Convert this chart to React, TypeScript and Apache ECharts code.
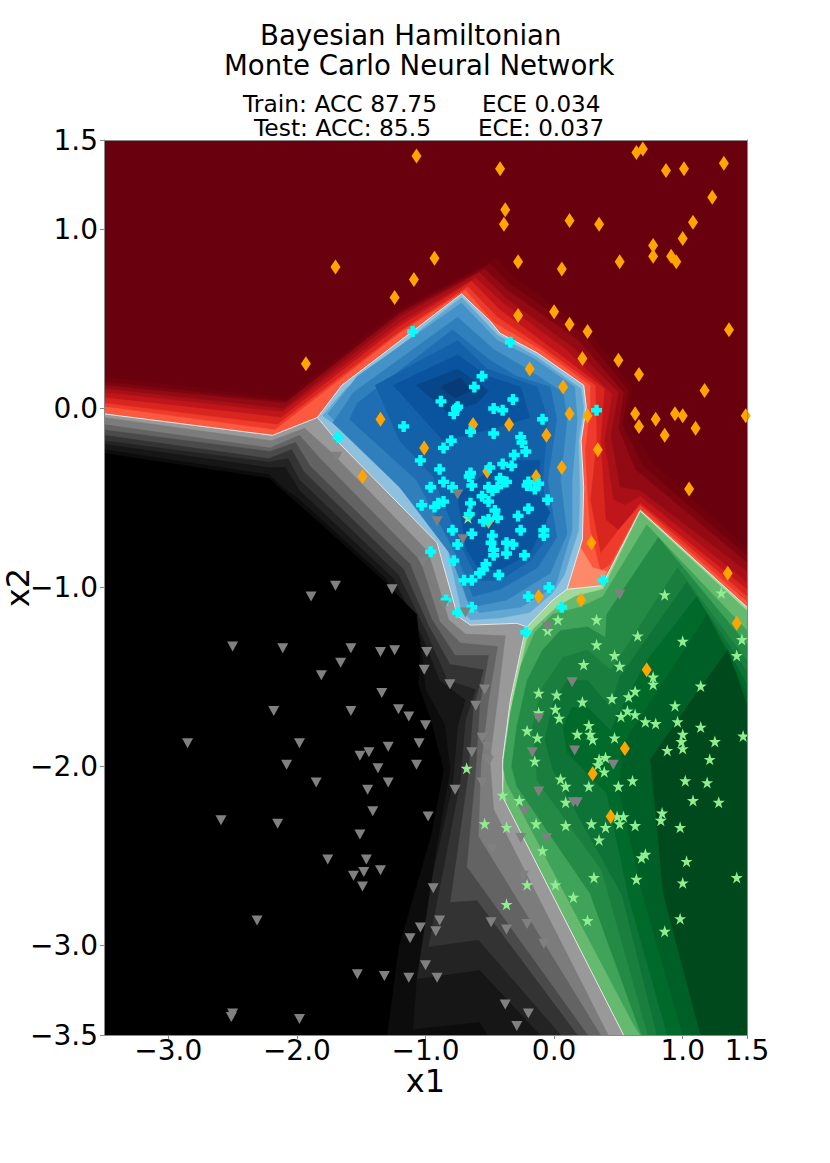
import React, { useEffect, useRef } from "react";
import * as echarts from "echarts";

type P = number[];

const xTicks = [-3, -2, -1, 0, 1, 1.5];
const yTicks = [-3.5, -3, -2, -1, 0, 1, 1.5];

const classOrange: P[] = [[-1.07,1.41],[-1.70,0.79],[-1.09,0.72],[-1.24,0.62],[-1.93,0.25],[-1.35,-0.06],[-1.01,-0.22],[-0.42,1.34],[-0.38,1.11],[-0.39,1.03],[-0.93,0.84],[-0.28,0.82],[0.06,0.78],[0.12,1.05],[0.35,1.03],[0.51,0.82],[0.64,1.43],[0.69,1.45],[0.87,1.33],[1.01,1.34],[1.32,1.37],[1.23,1.18],[1.08,1.04],[1.00,0.95],[0.77,0.91],[0.77,0.85],[0.91,0.85],[0.95,0.82],[-0.28,0.52],[0,0.54],[0.12,0.47],[0.26,0.43],[1.36,0.44],[0.22,0.28],[0.50,0.27],[0.66,0.19],[1.17,0.10],[-0.19,0.22],[0.07,0.12],[0.12,-0.03],[0.26,-0.04],[0.34,-0.23],[0.63,-0.03],[0.66,-0.10],[0.79,-0.06],[0.86,-0.15],[0.94,-0.03],[1.00,-0.04],[1.10,-0.11],[1.49,-0.04],[-0.35,-0.09],[-0.06,-0.15],[-0.63,-0.09],[-1.49,-0.38],[0.06,-0.33],[-0.52,-0.35],[-0.14,-0.38],[0.29,-0.75],[-0.12,-1.05],[0.21,-1.07],[-0.51,-0.63],[1.35,-0.92],[1.42,-1.20],[0.72,-1.46],[0.55,-1.90],[0.30,-2.04],[0.44,-2.28],[1.05,-0.45]];

const classCyan: P[] = [[-1.10,0.43],[-0.34,0.37],[-0.56,0.18],[-0.62,0.12],[-0.88,0.04],[-0.32,0.05],[-0.75,0.01],[-0.76,0],[-0.78,-0.03],[-0.47,0],[-0.40,-0.01],[0.33,-0.01],[-0.09,-0.06],[-1.17,-0.10],[-1.68,-0.16],[-0.65,-0.13],[-0.47,-0.14],[-0.26,-0.16],[-0.25,-0.19],[-0.80,-0.18],[-0.86,-0.22],[-0.22,-0.24],[-0.31,-0.26],[-1.04,-0.29],[-0.89,-0.34],[-0.50,-0.33],[-0.40,-0.31],[-0.33,-0.32],[-0.65,-0.36],[-0.66,-0.38],[-0.86,-0.41],[-0.96,-0.44],[-0.79,-0.44],[-0.64,-0.43],[-0.42,-0.39],[-0.40,-0.41],[-0.37,-0.41],[-0.44,-0.44],[-0.51,-0.44],[-0.48,-0.46],[-0.20,-0.41],[-0.21,-0.43],[-0.12,-0.42],[-0.15,-0.45],[-0.56,-0.49],[-0.51,-0.52],[-0.86,-0.52],[-0.90,-0.53],[-0.93,-0.55],[-1.03,-0.54],[-0.65,-0.53],[-0.05,-0.51],[-0.46,-0.57],[-0.20,-0.56],[-0.66,-0.59],[-0.44,-0.61],[-0.28,-0.60],[-0.51,-0.62],[-0.55,-0.63],[-0.79,-0.68],[-0.26,-0.68],[-0.08,-0.68],[-0.08,-0.71],[-0.64,-0.70],[-0.48,-0.71],[-0.37,-0.75],[-0.32,-0.76],[-0.75,-0.76],[-0.49,-0.75],[-0.47,-0.79],[-0.96,-0.80],[-0.37,-0.81],[-0.23,-0.82],[-0.47,-0.82],[-0.78,-0.85],[-0.53,-0.87],[-0.55,-0.90],[-0.58,-0.92],[-0.43,-0.93],[-0.64,-0.96],[-0.70,-0.96],[-0.04,-1.00],[0.38,-0.96],[-0.20,-1.05],[-0.84,-1.07],[0.06,-1.11],[-0.64,-1.11],[-0.75,-1.14],[-0.22,-1.25]];

const classGrey: P[] = [[-1.70,-0.99],[-1.89,-1.05],[-1.26,-1.01],[-2.50,-1.33],[-2.11,-1.34],[-1.58,-1.34],[-1.35,-1.36],[-1.24,-1.35],[-0.99,-1.36],[-1.66,-1.42],[-1.01,-1.46],[-1.81,-1.49],[-1.34,-1.59],[-2.18,-1.69],[-1.58,-1.69],[-1.21,-1.68],[-1.13,-1.72],[-1.00,-1.77],[-2.85,-1.87],[-1.98,-1.87],[-1.05,-1.87],[-1.29,-1.89],[-1.44,-1.92],[-1.51,-1.94],[-2.08,-1.99],[-1.07,-1.99],[-1.37,-2.01],[-1.29,-2.09],[-1.85,-2.09],[-1.45,-2.13],[-1.41,-2.25],[-0.98,-2.28],[-2.59,-2.30],[-2.15,-2.32],[-1.51,-2.38],[-1.76,-2.52],[-1.46,-2.52],[-1.35,-2.58],[-1.48,-2.59],[-1.56,-2.61],[-1.49,-2.67],[-2.31,-2.86],[-1.04,-2.90],[-1.12,-2.96],[-1.00,-3.11],[-1.53,-3.16],[-1.32,-3.17],[-1.13,-3.18],[-2.50,-3.38],[-2.51,-3.40],[-1.98,-3.41],[-0.77,-2.13],[-0.56,-2.09],[-0.12,-2.14],[0.15,-2.20],[0.18,-2.20],[-0.23,-2.25],[-0.26,-2.40],[-0.06,-2.40],[-0.48,-2.46],[-0.24,-2.61],[-0.94,-2.68],[-0.89,-2.86],[-0.49,-2.87],[-0.21,-2.88],[-0.37,-2.91],[-0.92,-2.92],[-0.08,-2.99],[-0.91,-3.18],[-0.38,-3.33],[-0.20,-3.38],[-0.29,-3.45],[0.46,-1.99],[-0.51,-1.97],[-0.91,-0.63],[-0.71,-0.73],[-1.02,-0.86],[-0.86,-1.10],[-0.69,-1.14],[-0.81,-1.54],[-0.54,-1.57],[-0.61,-1.66],[-0.56,-1.84],[-0.52,-1.89],[-0.64,-1.92],[-0.52,-1.96],[-0.17,-1.92],[-0.12,-1.73],[0.16,-1.91],[0.14,-1.53],[-0.05,-1.22],[0.51,-1.04],[-0.75,-0.48],[-1.69,-0.27]];

const classGreen: P[] = [[0.86,-1.04],[1.30,-1.03],[0.03,-1.18],[0.33,-1.18],[0.65,-1.27],[1.00,-1.30],[1.46,-1.29],[0.33,-1.32],[0.47,-1.38],[1.42,-1.38],[0.23,-1.43],[0.51,-1.44],[0.77,-1.50],[0.77,-1.54],[1.14,-1.55],[-0.12,-1.59],[0.02,-1.60],[0.22,-1.64],[0.45,-1.62],[0.63,-1.58],[0.58,-1.61],[0.94,-1.66],[0.01,-1.68],[-0.12,-1.70],[0.57,-1.69],[0.52,-1.72],[0.63,-1.71],[0.04,-1.73],[0.71,-1.75],[0.79,-1.76],[0.96,-1.75],[1.14,-1.78],[0.27,-1.77],[-0.21,-1.80],[0.18,-1.82],[0.28,-1.82],[0.30,-1.85],[0.47,-1.84],[-0.13,-1.84],[1.00,-1.82],[0.99,-1.86],[1.25,-1.86],[1.47,-1.83],[0.88,-1.91],[1.00,-1.90],[0.35,-1.96],[0.40,-1.95],[0.34,-1.99],[-0.15,-1.97],[1.21,-1.96],[-0.68,-2.01],[0.39,-2.03],[0.05,-2.07],[0.61,-2.08],[1.02,-2.08],[1.19,-2.09],[0.09,-2.11],[0.27,-2.11],[0.50,-2.11],[-0.40,-2.16],[-0.27,-2.19],[1.08,-2.19],[1.28,-2.20],[0.09,-2.20],[0.84,-2.26],[0.54,-2.28],[0.49,-2.28],[0.83,-2.30],[-0.54,-2.32],[-0.14,-2.32],[0.09,-2.33],[0.29,-2.32],[0.51,-2.32],[0.63,-2.33],[0.40,-2.34],[0.98,-2.34],[-0.37,-2.34],[0.35,-2.41],[-0.09,-2.47],[0.71,-2.49],[0.68,-2.51],[1.03,-2.53],[0.31,-2.62],[0.64,-2.63],[1.00,-2.65],[1.42,-2.62],[0.01,-2.66],[-0.21,-2.66],[0.15,-2.73],[-0.37,-2.77],[0.26,-2.86],[0.98,-2.85],[0.86,-2.92],[-0.05,-1.24],[-0.67,-0.61]];

// Decision frontiers between the classes
const frontierRed: P[] = [[-3.5,-0.03],[-2.19,-0.15],[-1.84,-0.05],[-1.65,0.13],[-0.72,0.64],[-0.50,0.49],[-0.42,0.42],[-0.13,0.31],[0.23,0.13],[0.25,0.01],[0.21,-0.18],[0.23,-0.44],[0.22,-0.73],[0.10,-1.01],[0.37,-0.99],[0.67,-0.57],[1.5,-1.11]];
const frontierBlueBlack: P[] = [[-1.84,-0.05],[-1.69,-0.18],[-0.91,-0.75],[-0.75,-1.16],[-0.65,-1.21],[-0.29,-1.20],[-0.21,-1.22]];
const frontierBlueGreen: P[] = [[0.10,-1.01],[-0.01,-1.07],[-0.21,-1.22]];
const frontierGreenBlack: P[] = [[-0.21,-1.22],[-0.24,-1.29],[-0.34,-1.63],[-0.40,-1.96],[-0.40,-2.17],[0.54,-3.5]];

// Filled probability levels, red class
const redBase: P[] = [[-3.5,1.5],[1.5,1.5],[1.5,-3.5],[-3.5,-3.5]];
const red2: P[] = [[-3.5,0.18],[-2.08,0.06],[-1.20,0.56],[-0.44,0.84],[-0.29,0.72],[0.26,0.44],[0.61,0.12],[0.57,-0.08],[0.75,-0.29],[1.5,-0.78],[1.5,-3.5],[-3.5,-3.5]];
const red3: P[] = [[-3.5,0.15],[-2.08,0.04],[-1.20,0.54],[-0.50,0.81],[-0.33,0.69],[0.23,0.41],[0.58,0.10],[0.53,-0.09],[0.69,-0.32],[1.5,-0.82],[1.5,-3.5],[-3.5,-3.5]];
const red4: P[] = [[-3.5,0.13],[-2.09,0.03],[-1.20,0.53],[-0.54,0.78],[-0.36,0.66],[0.19,0.38],[0.54,0.09],[0.50,-0.11],[0.63,-0.34],[1.5,-0.86],[1.5,-3.5],[-3.5,-3.5]];
const red5: P[] = [[-3.5,0.11],[-2.10,0],[-1.20,0.51],[-0.58,0.76],[-0.38,0.62],[0.15,0.34],[0.50,0.09],[0.44,-0.15],[0.51,-0.44],[0.67,-0.46],[1.5,-0.91],[1.5,-3.5],[-3.5,-3.5]];
const red6: P[] = [[-3.5,0.09],[-2.11,-0.02],[-1.20,0.48],[-0.61,0.73],[-0.40,0.59],[0.09,0.33],[0.45,0.08],[0.39,-0.18],[0.46,-0.51],[0.55,-0.54],[0.67,-0.49],[1.5,-0.97],[1.5,-3.5],[-3.5,-3.5]];
const red7: P[] = [[-3.5,0.06],[-2.12,-0.05],[-1.20,0.46],[-0.64,0.71],[-0.42,0.55],[0.01,0.32],[0.39,0.11],[0.36,-0.18],[0.40,-0.62],[0.50,-0.68],[0.67,-0.53],[1.5,-1.01],[1.5,-3.5],[-3.5,-3.5]];
const red8: P[] = [[-3.5,0.03],[-2.15,-0.09],[-1.20,0.43],[-0.67,0.68],[-0.44,0.51],[-0.07,0.33],[0.32,0.13],[0.33,-0.18],[0.28,-0.51],[0.36,-0.81],[0.50,-0.68],[0.67,-0.54],[1.5,-1.05],[1.5,-3.5],[-3.5,-3.5]];
const red9: P[] = [[-3.5,0.01],[-2.17,-0.12],[-1.20,0.42],[-0.69,0.66],[-0.47,0.48],[-0.11,0.33],[0.28,0.13],[0.28,0.01],[0.24,-0.23],[0.26,-0.51],[0.28,-0.68],[0.36,-0.91],[0.44,-0.87],[0.67,-0.56],[1.5,-1.08],[1.5,-3.5],[-3.5,-3.5]];
const red10: P[] = [[0.22,-0.73],[0.19,-0.76],[0.30,-0.89],[0.41,-0.91],[0.37,-0.99],[0.10,-1.01]];

// Filled probability levels, blue class
const blue0: P[] = [[-1.84,-0.05],[-1.65,0.13],[-0.72,0.64],[-0.50,0.49],[-0.42,0.42],[-0.13,0.31],[0.23,0.13],[0.25,0.01],[0.21,-0.18],[0.23,-0.44],[0.22,-0.73],[0.10,-1.01],[-0.01,-1.07],[-0.21,-1.22],[-0.29,-1.20],[-0.65,-1.21],[-0.75,-1.16],[-0.91,-0.75],[-1.69,-0.18]];
const blue1: P[] = [[-1.80,-0.04],[-1.62,0.11],[-0.72,0.62],[-0.44,0.41],[-0.14,0.29],[0.21,0.11],[0.23,0],[0.19,-0.18],[0.20,-0.46],[0.19,-0.68],[0.08,-0.93],[-0.01,-1.03],[-0.19,-1.14],[-0.42,-1.17],[-0.65,-1.18],[-0.72,-1.13],[-0.85,-0.71],[-1.57,-0.16]];
const blue2: P[] = [[-1.76,-0.03],[-1.53,0.18],[-0.72,0.59],[-0.44,0.38],[-0.16,0.28],[0.16,0.12],[0.18,-0.06],[0.14,-0.40],[0.14,-0.68],[0.01,-0.99],[-0.26,-1.11],[-0.58,-1.14],[-0.68,-1.07],[-0.81,-0.73],[-1.24,-0.40],[-1.60,-0.15]];
const blue3: P[] = [[-1.72,-0.08],[-1.56,0.09],[-0.75,0.51],[-0.47,0.33],[-0.21,0.22],[0.07,0.09],[0.10,-0.06],[0.05,-0.40],[0.10,-0.70],[-0.03,-0.92],[-0.37,-1.07],[-0.65,-1.11],[-0.81,-0.81],[-1.20,-0.44]];
const blue4: P[] = [[-1.59,-0.06],[-1.53,0.03],[-0.79,0.44],[-0.50,0.27],[-0.29,0.18],[-0.03,0.12],[0.02,-0.06],[-0.05,-0.40],[0.02,-0.72],[-0.13,-0.89],[-0.42,-1.01],[-0.63,-1.05],[-0.75,-0.83],[-1.07,-0.40]];
const blue5: P[] = [[-1.39,0.13],[-0.75,0.38],[-0.52,0.22],[-0.13,0.12],[-0.05,-0.06],[-0.09,-0.40],[-0.05,-0.72],[-0.19,-0.85],[-0.42,-0.96],[-0.59,-0.96],[-0.72,-0.77],[-0.94,-0.38],[-1.20,-0.18]];
const blue6a: P[] = [[-1.25,0.13],[-0.75,0.30],[-0.52,0.18],[-0.26,0.12],[-0.19,-0.05],[-0.42,-0.10],[-0.86,-0.18]];
const blue6b: P[] = [[-0.75,-0.49],[-0.42,-0.29],[-0.11,-0.29],[-0.13,-0.47],[-0.03,-0.58],[-0.19,-0.81],[-0.42,-0.90],[-0.58,-0.90],[-0.68,-0.79]];
const blue7: P[] = [[-1.07,0.13],[-0.75,0.22],[-0.51,0.10],[-0.60,0.03],[-0.83,-0.02]];
const blue8: P[] = [[-0.89,0.12],[-0.73,0.17],[-0.65,0.10],[-0.77,0.06]];

// Filled probability levels, green class
const green0: P[] = [[0.10,-1.01],[0.37,-0.99],[0.67,-0.57],[1.5,-1.11],[1.5,-3.5],[0.54,-3.5],[-0.40,-2.17],[-0.40,-1.96],[-0.34,-1.63],[-0.24,-1.29],[-0.21,-1.22],[-0.01,-1.07]];
const green0b: P[] = [[0.67,-0.58],[1.5,-1.13],[1.5,-3.5],[0.54,-3.5],[-0.40,-2.17],[-0.38,-1.96],[-0.32,-1.63],[-0.21,-1.29],[-0.16,-1.23],[0.02,-1.11],[0.16,-1.05],[0.38,-1.01]];
const green1: P[] = [[0.72,-0.65],[1.5,-1.24],[1.5,-3.5],[0.67,-3.5],[0.61,-3.43],[-0.37,-2.09],[-0.40,-2.00],[-0.34,-1.70],[-0.26,-1.44],[-0.15,-1.25],[-0.01,-1.15],[0.20,-1.11],[0.38,-1.05]];
const green2: P[] = [[0.81,-0.72],[1.5,-1.32],[1.5,-3.5],[0.68,-3.5],[0.28,-2.71],[-0.29,-2.11],[-0.33,-2.00],[-0.29,-1.78],[-0.21,-1.52],[-0.09,-1.35],[0.05,-1.24],[0.26,-1.22],[0.40,-1.28],[0.41,-1.15]];
const green3: P[] = [[0.96,-0.89],[1.5,-1.41],[1.5,-3.5],[0.73,-3.5],[0.37,-2.58],[-0.13,-2.08],[-0.17,-1.78],[-0.09,-1.56],[0.07,-1.39],[0.26,-1.35],[0.44,-1.46],[0.49,-1.41]];
const green4: P[] = [[1.03,-0.97],[1.5,-1.47],[1.5,-3.5],[0.80,-3.5],[0.53,-2.72],[-0.01,-2.02],[-0.07,-1.85],[-0.01,-1.65],[0.10,-1.52],[0.26,-1.52],[0.44,-1.67],[0.51,-1.50]];
const green5: P[] = [[1.11,-1.05],[1.5,-1.54],[1.5,-3.5],[0.88,-3.5],[0.58,-2.73],[0.41,-2.15],[0.10,-1.92],[0.07,-1.78],[0.14,-1.67],[0.26,-1.67],[0.44,-1.80],[0.49,-1.72],[0.72,-1.41]];
const green6: P[] = [[1.19,-1.15],[1.5,-1.60],[1.5,-3.5],[1.00,-3.5],[0.69,-2.72],[0.51,-2.15],[0.53,-1.88],[0.86,-1.52]];
const green7: P[] = [[1.35,-1.35],[1.5,-1.66],[1.5,-3.5],[1.14,-3.5],[0.85,-2.71],[0.75,-1.96],[1.03,-1.67]];

// Filled probability levels, grey class
const grey0: P[] = [[-3.5,-0.03],[-2.19,-0.15],[-1.84,-0.05],[-1.69,-0.18],[-0.91,-0.75],[-0.75,-1.16],[-0.65,-1.21],[-0.29,-1.20],[-0.21,-1.22],[-0.24,-1.29],[-0.34,-1.63],[-0.40,-1.96],[-0.40,-2.17],[0.54,-3.5],[-3.5,-3.5]];
const grey1: P[] = [[-3.5,-0.05],[-2.20,-0.18],[-1.94,-0.11],[-1.74,-0.24],[-0.98,-0.80],[-0.82,-1.18],[-0.69,-1.26],[-0.38,-1.27],[-0.44,-1.63],[-0.50,-1.96],[-0.47,-2.24],[0.42,-3.5],[-3.5,-3.5]];
const grey2: P[] = [[-3.5,-0.09],[-2.21,-0.22],[-1.98,-0.15],[-1.82,-0.28],[-1.04,-0.85],[-0.89,-1.19],[-0.73,-1.31],[-0.44,-1.33],[-0.51,-1.63],[-0.57,-1.99],[-0.59,-2.39],[0.36,-3.5],[-3.5,-3.5]];
const grey3: P[] = [[-3.5,-0.12],[-2.21,-0.24],[-2.01,-0.19],[-1.90,-0.32],[-1.12,-0.87],[-0.95,-1.18],[-0.77,-1.38],[-0.51,-1.38],[-0.58,-1.66],[-0.61,-2.02],[-0.68,-2.56],[0.26,-3.5],[-3.5,-3.5]];
const grey4: P[] = [[-3.5,-0.15],[-2.22,-0.28],[-2.04,-0.23],[-1.95,-0.35],[-1.17,-0.90],[-0.98,-1.21],[-0.81,-1.43],[-0.55,-1.46],[-0.63,-1.68],[-0.67,-2.05],[-0.81,-2.76],[-0.60,-2.75],[0.18,-3.5],[-3.5,-3.5]];
const grey5: P[] = [[-3.5,-0.18],[-2.22,-0.30],[-2.07,-0.28],[-1.98,-0.40],[-1.21,-0.93],[-1.00,-1.24],[-0.83,-1.52],[-0.61,-1.57],[-0.69,-1.74],[-0.73,-2.08],[-0.98,-3.01],[-0.59,-2.97],[0.05,-3.5],[-3.5,-3.5]];
const grey6: P[] = [[-3.5,-0.20],[-2.22,-0.33],[-2.09,-0.33],[-1.98,-0.46],[-1.25,-0.95],[-1.03,-1.27],[-0.89,-1.52],[-0.69,-1.63],[-0.75,-1.77],[-0.79,-2.10],[-0.96,-2.65],[-1.08,-3.19],[-0.58,-3.14],[-0.11,-3.5],[-3.5,-3.5]];
const grey7: P[] = [[-3.5,-0.23],[-2.22,-0.37],[-2.11,-0.44],[-1.98,-0.51],[-1.31,-0.95],[-1.04,-1.29],[-1.00,-1.57],[-0.85,-1.77],[-0.81,-2.02],[-0.92,-2.47],[-1.07,-3.19],[-1.10,-3.47],[-0.58,-3.43],[-0.52,-3.5],[-3.5,-3.5]];
const grey8: P[] = [[-3.5,-0.25],[-2.22,-0.39],[-1.98,-0.54],[-1.33,-0.96],[-1.07,-1.15],[-1.04,-1.35],[-1.06,-1.54],[-0.96,-1.74],[-0.86,-2.02],[-0.96,-2.39],[-1.21,-3.01],[-1.30,-3.5],[-3.5,-3.5]];

const filledLevels: { color: string; points: P[] }[] = [
  { color: "#69000e", points: redBase },
  { color: "#70020e", points: red2 },
  { color: "#7d0510", points: red3 },
  { color: "#920a13", points: red4 },
  { color: "#a81017", points: red5 },
  { color: "#c0161b", points: red6 },
  { color: "#d8261f", points: red7 },
  { color: "#ef3b2c", points: red8 },
  { color: "#fb5a40", points: red9 },
  { color: "#fc8a6a", points: red10 },
  { color: "#8fc1de", points: blue0 },
  { color: "#62a8d3", points: blue1 },
  { color: "#4492c7", points: blue2 },
  { color: "#2f7fbc", points: blue3 },
  { color: "#1f6eb3", points: blue4 },
  { color: "#1361a9", points: blue5 },
  { color: "#0a539e", points: blue6a },
  { color: "#0a539e", points: blue6b },
  { color: "#08468a", points: blue7 },
  { color: "#083a75", points: blue8 },
  { color: "#a1d99b", points: green0 },
  { color: "#66ba70", points: green0b },
  { color: "#40a35a", points: green1 },
  { color: "#238b45", points: green2 },
  { color: "#1a7f3e", points: green3 },
  { color: "#0e7337", points: green4 },
  { color: "#006a2b", points: green5 },
  { color: "#005f27", points: green6 },
  { color: "#00491d", points: green7 },
  { color: "#999999", points: grey0 },
  { color: "#7c7c7c", points: grey1 },
  { color: "#636363", points: grey2 },
  { color: "#4a4a4a", points: grey3 },
  { color: "#333333", points: grey4 },
  { color: "#232323", points: grey5 },
  { color: "#161616", points: grey6 },
  { color: "#0c0c0c", points: grey7 },
  { color: "#000000", points: grey8 },
];
const frontiers = [frontierRed, frontierBlueBlack, frontierBlueGreen, frontierGreenBlack];

const FONT = "DejaVu Sans";
const PLUS = "path://M3 0H7V3H10V7H7V10H3V7H0V3H3Z";
const STAR = "path://M5 0L6.2 3.6L10 3.6L6.9 5.9L8.1 9.5L5 7.3L1.9 9.5L3.1 5.9L0 3.6L3.8 3.6Z";
const fmt = (v: number) => v.toFixed(1).replace("-", "\u2212");

export default function App() {
  const ref = useRef<HTMLDivElement>(null);
  useEffect(() => {
    const chart = echarts.init(ref.current!, undefined, { renderer: "svg" });
    const frame = "#8a8a8a";
    const baseAxis = {
      type: "value" as const,
      min: -3.5,
      z: 10,
      splitLine: { show: false },
    };
    chart.setOption({
      animation: false,
      backgroundColor: "#ffffff",
      grid: { left: 104, top: 140, width: 643, height: 895, containLabel: false, outerBoundsMode: "none" },
      xAxis: [
        {
          ...baseAxis,
          max: 1.5,
          position: "bottom",
          name: "x1",
          nameLocation: "middle",
          nameGap: 34,
          nameMoveOverlap: false,
          nameTextStyle: { fontFamily: FONT, fontSize: 32, color: "#000", lineHeight: 24 },
          axisLine: { show: true, onZero: false, lineStyle: { color: frame } },
          axisTick: { show: true, length: 4, customValues: xTicks, lineStyle: { color: frame } },
          axisLabel: { show: true, customValues: xTicks, formatter: fmt, fontFamily: FONT, fontSize: 28, color: "#000", margin: 1, hideOverlap: false },
        },
        {
          ...baseAxis,
          max: 1.5,
          position: "top",
          axisLine: { show: true, onZero: false, lineStyle: { color: frame } },
          axisTick: { show: false },
          axisLabel: { show: false },
        },
      ],
      yAxis: [
        {
          ...baseAxis,
          max: 1.5,
          position: "left",
          name: "x2",
          nameLocation: "middle",
          nameGap: 70,
          nameMoveOverlap: false,
          nameTextStyle: { fontFamily: FONT, fontSize: 32, color: "#000" },
          axisLine: { show: true, onZero: false, lineStyle: { color: frame } },
          axisTick: { show: true, length: 4, customValues: yTicks, lineStyle: { color: frame } },
          axisLabel: { show: true, customValues: yTicks, formatter: fmt, fontFamily: FONT, fontSize: 28, color: "#000", margin: 6, hideOverlap: false },
        },
        {
          ...baseAxis,
          max: 1.5,
          position: "right",
          axisLine: { show: true, onZero: false, lineStyle: { color: frame } },
          axisTick: { show: false },
          axisLabel: { show: false },
        },
      ],
      graphic: [
        { type: "text", left: 260, top: 21, style: { text: "Bayesian Hamiltonian", font: `27.6px '${FONT}'`, fill: "#000" } },
        { type: "text", left: 224, top: 51, style: { text: "Monte Carlo Neural Network", font: `27.6px '${FONT}'`, fill: "#000" } },
        { type: "text", left: 243, top: 92, style: { text: "Train: ACC 87.75", font: `23.4px '${FONT}'`, lineHeight: 24, fill: "#000" } },
        { type: "text", left: 482, top: 92, style: { text: "ECE 0.034", font: `23px '${FONT}'`, lineHeight: 24, fill: "#000" } },
        { type: "text", left: 254, top: 116, style: { text: "Test: ACC: 85.5", font: `23.4px '${FONT}'`, lineHeight: 24, fill: "#000" } },
        { type: "text", left: 478, top: 116, style: { text: "ECE: 0.037", font: `23px '${FONT}'`, lineHeight: 24, fill: "#000" } },
      ],
      series: [
        {
          type: "custom",
          silent: true,
          clip: true,
          data: filledLevels.map((_, i) => [i]),
          encode: { x: 0 },
          renderItem: (params: any, api: any) => {
            const level = filledLevels[params.dataIndex];
            return {
              type: "polygon",
              shape: { points: level.points.map((p) => api.coord(p)) },
              style: { fill: level.color, stroke: level.color, lineWidth: 0.5 },
            };
          },
        },
        {
          type: "custom",
          silent: true,
          clip: true,
          data: frontiers.map((_, i) => [i]),
          encode: { x: 0 },
          renderItem: (params: any, api: any) => ({
            type: "polyline",
            shape: { points: frontiers[params.dataIndex].map((p) => api.coord(p)) },
            style: { stroke: "rgba(240,240,240,0.9)", fill: "none", lineWidth: 1 },
          }),
        },
        { type: "scatter", data: classGreen, symbol: STAR, symbolSize: 12, itemStyle: { color: "#90ee90", opacity: 1 }, silent: true },
        { type: "scatter", data: classOrange, symbol: "diamond", symbolSize: [10, 15], itemStyle: { color: "#ffa500", opacity: 1 }, silent: true },
        { type: "scatter", data: classCyan, symbol: PLUS, symbolSize: 11, itemStyle: { color: "#00ffff", opacity: 1 }, silent: true },
        { type: "scatter", data: classGrey, symbol: "triangle", symbolRotate: 180, symbolSize: [11, 10], itemStyle: { color: "#808080", opacity: 1 }, silent: true },
      ],
    });
    return () => chart.dispose();
  }, []);
  return <div ref={ref} style={{ position: "absolute", left: 0, top: 0, width: 830, height: 1163 }} />;
}
